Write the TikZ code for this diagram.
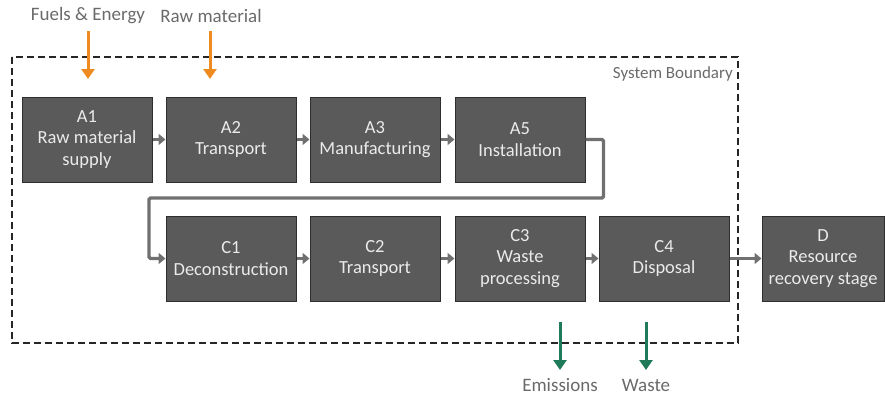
\documentclass[tikz,border=0pt]{standalone}
\usepackage{fontspec}
\setmainfont{Carlito}
\usetikzlibrary{arrows.meta}
\definecolor{boxfill}{HTML}{5A5A5A}
\definecolor{boxedge}{HTML}{2E2E2E}
\definecolor{conn}{HTML}{707070}
\definecolor{orangec}{HTML}{EE8A1E}
\definecolor{greenc}{HTML}{1F7A5A}
\definecolor{labelc}{HTML}{6A6A6A}
\tikzset{
  stagebox/.style={draw=boxedge, line width=1pt, fill=boxfill, text=white!92!black,
    minimum width=130pt, minimum height=85pt, align=center, inner sep=0pt,
    font=\fontsize{18.5}{21.5}\selectfont},
  flow/.style={conn, line width=3.2pt, -{Triangle[length=7pt,width=11pt]}},
  inarrow/.style={orangec, line width=3pt, -{Triangle[length=10pt,width=13pt]}},
  outarrow/.style={greenc, line width=3pt, -{Triangle[length=10pt,width=13pt]}},
  extlabel/.style={text=labelc, font=\fontsize{19}{22}\selectfont, inner sep=0pt},
  boundary/.style={draw=black!85, line width=1.8pt, dash pattern=on 7pt off 4pt}
}
\begin{document}
\begin{tikzpicture}[x=1pt,y=-1pt]
\useasboundingbox (0,0) rectangle (885,396);
% boundary
\draw[boundary] (12,57) rectangle (738,343);
\node[text=labelc, font=\fontsize{17}{20}\selectfont, anchor=east, inner sep=0pt] (sb) at (733,74) {System Boundary};
% row 1
\node[stagebox] (A1) at (87,139.5) {A1\\Raw material\\supply};
\node[stagebox] (A2) at (231,139.5) {A2\\Transport};
\node[stagebox] (A3) at (375,139.5) {A3\\Manufacturing};
\node[stagebox] (A5) at (520,139.5) {A5\\Installation};
% row 2
\node[stagebox] (C1) at (231,258.5) {C1\\Deconstruction};
\node[stagebox] (C2) at (375,258.5) {C2\\Transport};
\node[stagebox] (C3) at (520,258.5) {C3\\Waste\\processing};
\node[stagebox] (C4) at (664,258.5) {C4\\Disposal};
\node[stagebox, minimum width=122pt] (D) at (823,258.5) {D\\Resource\\recovery stage};
% flows
\draw[flow] (A1) -- (A2);
\draw[flow] (A2) -- (A3);
\draw[flow] (A3) -- (A5);
\draw[flow] (C1) -- (C2);
\draw[flow] (C2) -- (C3);
\draw[flow] (C3) -- (C4);
\draw[flow] (C4) -- (D);
\draw[flow, rounded corners=1.5pt] (A5.east) -- ++(18,0) |- (149,198) |- (C1.west);
% inputs
\node[extlabel] (fe) at (88,16) {Fuels \& Energy};
\node[extlabel] (rm) at (211,16) {Raw material};
\coordinate (fe1) at (88,31);
\coordinate (fe2) at (88,79);
\coordinate (rm1) at (210,31);
\coordinate (rm2) at (210,79);
\draw[inarrow] (fe1) -- (fe2);
\draw[inarrow] (rm1) -- (rm2);
% outputs
\node[extlabel] (em) at (560,385) {Emissions};
\node[extlabel] (wa) at (646,385) {Waste};
\coordinate (em1) at (560,322);
\coordinate (em2) at (560,370);
\coordinate (wa1) at (646,322);
\coordinate (wa2) at (646,370);
\draw[outarrow] (em1) -- (em2);
\draw[outarrow] (wa1) -- (wa2);
\end{tikzpicture}
\end{document}
